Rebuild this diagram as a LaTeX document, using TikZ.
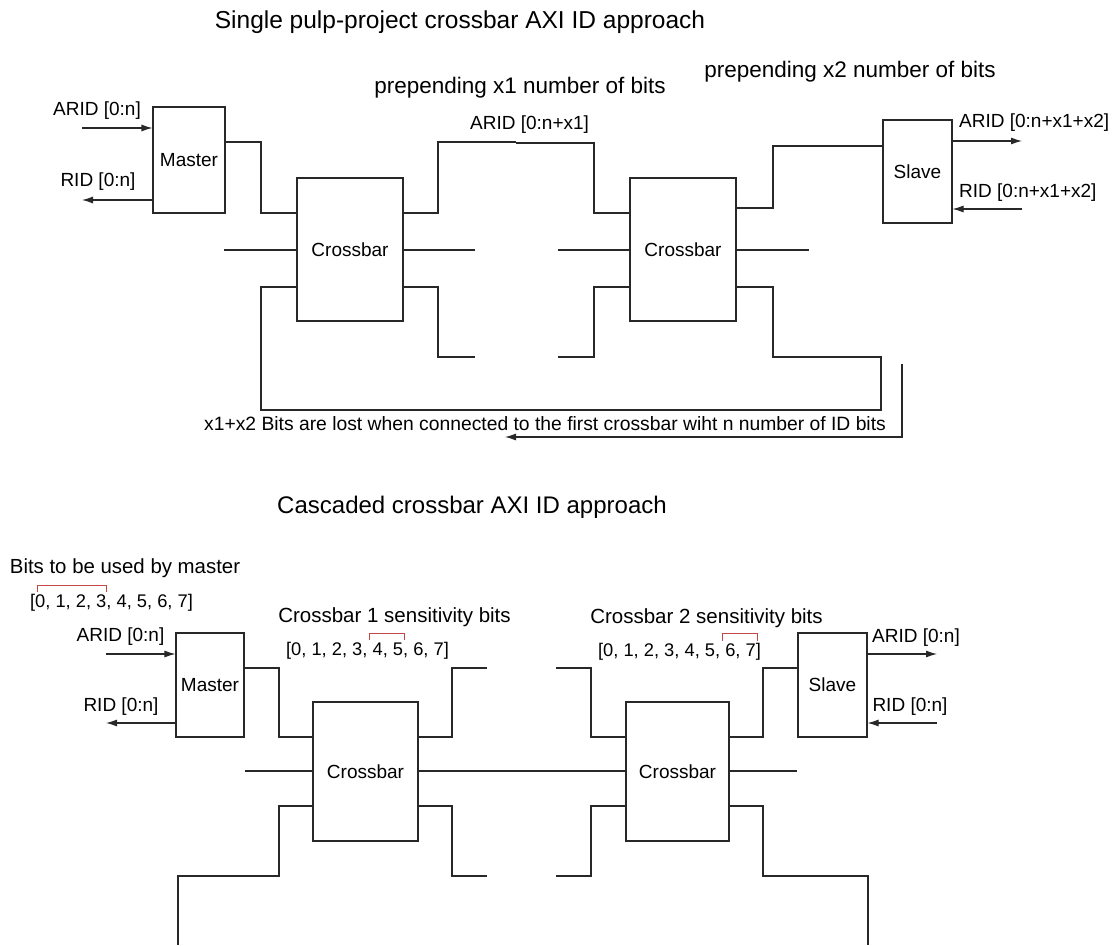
\documentclass[tikz,border=0pt]{standalone}
\usepackage{fontspec}
\setmainfont{Liberation Sans}
\usetikzlibrary{arrows.meta}
\definecolor{wirecol}{RGB}{40,40,40}
\definecolor{bitmark}{RGB}{196,70,70}
\begin{document}
\begin{tikzpicture}[x=1pt,y=-1pt,
  wire/.style={line width=1.1pt, draw=wirecol},
  box/.style={draw=wirecol, line width=1.1pt, inner sep=0pt, font=\fontsize{19}{22}\selectfont},
  lbl/.style={inner sep=0pt, font=\fontsize{19}{22}\selectfont},
  head/.style={inner sep=0pt, font=\fontsize{24.5}{28}\selectfont},
  note/.style={inner sep=0pt, font=\fontsize{22.5}{26}\selectfont},
  bitlist/.style={inner sep=0pt, font=\fontsize{18.3}{22}\selectfont},
  sig/.style={wire, -{Latex[length=11pt,width=7pt]}},
  bracket/.style={line width=0.9pt, draw=bitmark},
]
\useasboundingbox (0,0) rectangle (1113,945);
\fill[white] (0,0) rectangle (1113,945);

% ---------------- single pulp-project crossbar ----------------
\node[head] (t1) at (460,22) {Single pulp-project crossbar AXI ID approach};
\node[note] (p1) at (520,88) {prepending x1 number of bits};
\node[note] (p2) at (850,72) {prepending x2 number of bits};

\node[box, minimum width=72pt, minimum height=106pt] (ma) at (189,160) {Master};
\node[box, minimum width=106pt, minimum height=143pt] (xa) at (350,249.5) {Crossbar};
\node[box, minimum width=106pt, minimum height=143pt] (xb) at (683,249.5) {Crossbar};
\node[box, minimum width=69pt, minimum height=103pt] (sa) at (917.5,171.5) {Slave};

\node[lbl] (ma-ar) at (97,111) {ARID [0:n]};
\node[lbl] (ma-r) at (98,182) {RID [0:n]};
\node[lbl, anchor=west] (xa-ar) at (470,125) {ARID [0:n+x1]};
\node[lbl, anchor=west] (sa-ar) at (959,123) {ARID [0:n+x1+x2]};
\node[lbl, anchor=west] (sa-r) at (959,193) {RID [0:n+x1+x2]};

\coordinate (ma-in) at (82,128);
\coordinate (ma-out) at (82,200);
\coordinate (sa-out) at (1022,141);
\coordinate (sa-in) at (1022,209);
\draw[sig] (ma-in) -- (ma-in -| ma.west);
\draw[sig] (ma.west |- ma-out) -- (ma-out);
\draw[sig] (sa.east |- sa-out) -- (sa-out);
\draw[sig] (sa-in) -- (sa-in -| sa.east);

% master to first crossbar
\draw[wire] (ma.east |- 0,142) -- (261,142) -- (261,213) -- (xa.west |- 0,213);
% first crossbar ports
\draw[wire] (224,250) -- (xa.west |- 0,250);
\draw[wire] (xa.east |- 0,213) -- (438,213) -- (438,142) -- (516,142);
\draw[wire] (516,143) -- (594,143) -- (594,213) -- (xb.west |- 0,213);
\draw[wire] (xa.east |- 0,250) -- (475,250);
\draw[wire] (xa.east |- 0,287) -- (438,287) -- (438,357) -- (475,357);
% second crossbar ports
\draw[wire] (558,250) -- (xb.west |- 0,250);
\draw[wire] (558,357) -- (594,357) -- (594,287) -- (xb.west |- 0,287);
\draw[wire] (xb.east |- 0,208) -- (773,208) -- (773,146) -- (sa.west |- 0,146);
\draw[wire] (xb.east |- 0,250) -- (809,250);
% loop back to the first crossbar
\draw[wire] (xa.west |- 0,287) -- (261,287) -- (261,410) -- (881,410)
  -- (881,357) -- (773,357) -- (773,287) -- (xb.east |- 0,287);
\coordinate (fb-top) at (902,364);
\coordinate (fb-end) at (505,437);
\draw[sig] (fb-top) |- (fb-end);
\node[lbl, font=\fontsize{19.3}{22}\selectfont] (fb) at (545,424) {x1+x2 Bits are lost when connected to the first crossbar wiht n number of ID bits};

% ---------------- cascaded crossbar ----------------
\node[head, font=\fontsize{24}{28}\selectfont] (t2) at (472,507) {Cascaded crossbar AXI ID approach};
\node[lbl, font=\fontsize{20.4}{24}\selectfont] (mb-note) at (125,568) {Bits to be used by master};
\node[bitlist] (mb-bits) at (111.5,603) {[0, 1, 2, 3, 4, 5, 6, 7]};
\node[lbl, font=\fontsize{20.5}{24}\selectfont] (xc-note) at (394.5,617) {Crossbar 1 sensitivity bits};
\node[bitlist] (xc-bits) at (367.5,651) {[0, 1, 2, 3, 4, 5, 6, 7]};
\node[lbl, font=\fontsize{20.5}{24}\selectfont] (xd-note) at (706.5,618) {Crossbar 2 sensitivity bits};
\node[bitlist] (xd-bits) at (679.5,652) {[0, 1, 2, 3, 4, 5, 6, 7]};

\draw[bracket] (37,592) -- (37,585) -- (106,585) -- (106,592);
\draw[bracket] (369,640) -- (369,633) -- (404,633) -- (404,640);
\draw[bracket] (722,641) -- (722,633) -- (757,633) -- (757,641);

\node[box, minimum width=68pt, minimum height=104pt] (mb) at (210,685) {Master};
\node[box, minimum width=105pt, minimum height=139pt] (xc) at (365.5,771.5) {Crossbar};
\node[box, minimum width=103pt, minimum height=139pt] (xd) at (677.5,771.5) {Crossbar};
\node[box, minimum width=69pt, minimum height=104pt] (sb) at (832.5,685) {Slave};

\node[lbl] (mb-ar) at (120.5,637) {ARID [0:n]};
\node[lbl] (mb-r) at (121,707) {RID [0:n]};
\node[lbl] (sb-ar) at (916,638) {ARID [0:n]};
\node[lbl] (sb-r) at (910,707) {RID [0:n]};

\coordinate (mb-in) at (106,654);
\coordinate (mb-out) at (106,723);
\coordinate (sb-out) at (937,654);
\coordinate (sb-in) at (937,723);
\draw[sig] (mb-in) -- (mb-in -| mb.west);
\draw[sig] (mb.west |- mb-out) -- (mb-out);
\draw[sig] (sb.east |- sb-out) -- (sb-out);
\draw[sig] (sb-in) -- (sb-in -| sb.east);

% master to first crossbar
\draw[wire] (mb.east |- 0,668) -- (279,668) -- (279,737) -- (xc.west |- 0,737);
\draw[wire] (mb.east |- 0,771) -- (xc.west |- 0,771);
% first crossbar ports
\draw[wire] (xc.east |- 0,737) -- (452,737) -- (452,668) -- (487,668);
\draw[wire] (xc.east |- 0,771) -- (xd.west |- 0,771);
\draw[wire] (xc.east |- 0,806) -- (452,806) -- (452,876) -- (487,876);
\draw[wire] (xc.west |- 0,806) -- (279,806) -- (279,876) -- (178,876) -- (178,945);
% second crossbar ports
\draw[wire] (556,668) -- (591,668) -- (591,737) -- (xd.west |- 0,737);
\draw[wire] (556,876) -- (591,876) -- (591,806) -- (xd.west |- 0,806);
\draw[wire] (xd.east |- 0,737) -- (763,737) -- (763,668) -- (sb.west |- 0,668);
\draw[wire] (xd.east |- 0,771) -- (sb.west |- 0,771);
\draw[wire] (xd.east |- 0,806) -- (763,806) -- (763,876) -- (868,876) -- (868,945);
\end{tikzpicture}
\end{document}
